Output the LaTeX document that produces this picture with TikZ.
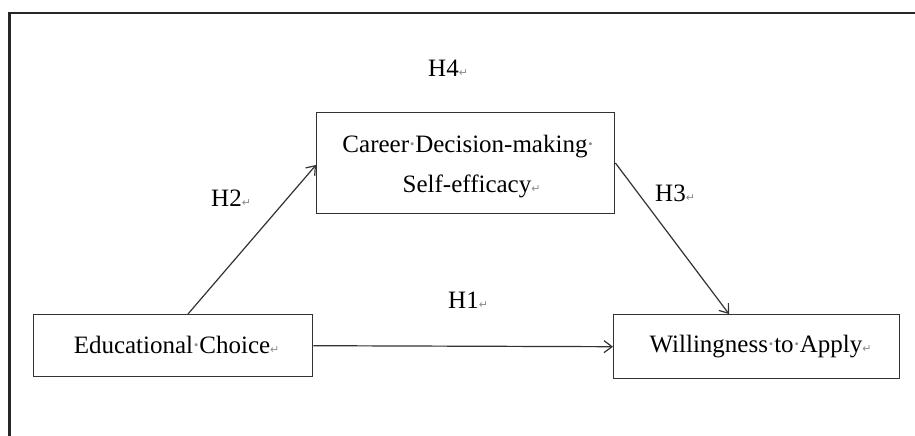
\documentclass[tikz,border=0pt]{standalone}
\usepackage{fontspec}
\setmainfont{Liberation Serif}
\newfontfamily\symfont{DejaVu Sans}
\usetikzlibrary{arrows.meta}
\definecolor{markgray}{RGB}{140,140,140}
\definecolor{linegray}{RGB}{50,50,50}
\newcommand\wdot{\makebox[0.25em]{\textcolor{markgray}{·}}}
\newcommand\wret{\rlap{\textcolor{markgray}{\symfont\fontsize{11}{11}\selectfont ↵}}}
\begin{document}
\begin{tikzpicture}[x=1pt,y=-1pt,
  font=\fontsize{25}{40}\selectfont,
  box/.style={draw=linegray,line width=1.4pt,inner sep=0pt,anchor=north west},
  lbl/.style={anchor=base west,inner sep=0pt},
  conn/.style={draw=linegray,line width=1.2pt,-{Straight Barb[length=8pt,width=12pt,line width=1.2pt]}}]
\useasboundingbox (0,0) rectangle (915,436);
\draw[black!85,line width=2.6pt] (9.5,436) -- (9.5,13) -- (915,13);
% boxes
\node[box,minimum width=298pt,minimum height=101pt] (career) at (316,112) {};
\node[box,minimum width=279pt,minimum height=62pt] (edu) at (33,314) {};
\node[box,minimum width=286pt,minimum height=64pt] (will) at (613,314) {};
% box texts
\node[anchor=base,inner sep=0pt] (careerA) at (465,152) {Career\wdot Decision-making\rlap{\wdot}};
\node[anchor=base,inner sep=0pt] (careerB) at (467,192) {Self-efficacy\wret};
\node[anchor=base,inner sep=0pt] (eduT) at (172,353) {Educational\wdot Choice\wret};
\node[anchor=base,inner sep=0pt] (willT) at (756,352) {Willingness\wdot to\wdot Apply\wret};
% labels
\node[lbl] (h4) at (428,76) {H4\wret};
\node[lbl] (h2) at (211,206) {H2\wret};
\node[lbl] (h3) at (655,201) {H3\wret};
\node[lbl] (h1) at (448,308) {H1\wret};
% connectors
\draw[conn] ([xshift=155pt]edu.north west) -- ([yshift=-53pt]career.north west);
\draw[conn] ([yshift=-51pt]career.north east) -- ([xshift=116pt]will.north west);
\draw[conn] (edu.east) -- (will.west);
\end{tikzpicture}
\end{document}
